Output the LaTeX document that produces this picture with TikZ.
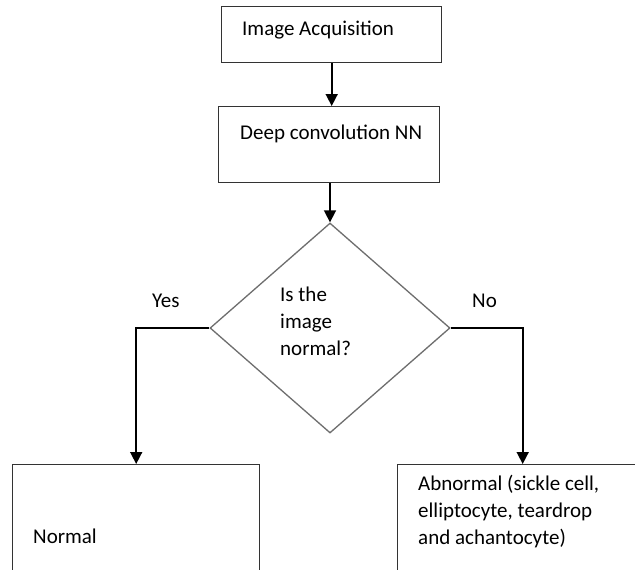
\documentclass[tikz,border=0pt]{standalone}
\usepackage{fontspec}
\setmainfont{Carlito}
\usetikzlibrary{shapes.geometric,arrows.meta}
\definecolor{boxc}{HTML}{333333}
\definecolor{diac}{HTML}{6E6E6E}
\begin{document}
\begin{tikzpicture}[x=1pt,y=-1pt,
  box/.style={draw=boxc,line width=1.4pt,rectangle,inner sep=0pt,anchor=north west,fill=white},
  dia/.style={draw=diac,line width=1.3pt,diamond,inner sep=0pt,minimum width=240pt,minimum height=210pt},
  conn/.style={draw=black,line width=1.6pt,-{Triangle[width=12pt,length=12pt]}},
  txt/.style={font=\fontsize{21pt}{27pt}\selectfont,anchor=base west,inner sep=0pt,align=left}]
\clip (0,0) rectangle (635,570);
\fill[white] (0,0) rectangle (635,570);
\node[box,minimum width=220pt,minimum height=56pt] (b1) at (221,6) {};
\node[box,minimum width=221pt,minimum height=76pt] (b2) at (218,106) {};
\node[dia] (d) at (330,328) {};
\node[box,minimum width=247pt,minimum height=140pt] (nl) at (12,464) {};
\node[box,minimum width=250pt,minimum height=140pt] (ab) at (397,464) {};
\node[txt] (t1) at (242,35) {Image Acquisition};
\node[txt] (t2) at (240,139) {Deep convolution NN};
\node[txt] (t3) at (280,355) {Is the\\image\\normal?};
\node[txt] (yes) at (152,307) {Yes};
\node[txt] (no) at (472,307) {No};
\node[txt] (t4) at (33,543) {Normal};
\node[txt] (t5) at (418,544) {Abnormal (sickle cell,\\elliptocyte, teardrop\\and achantocyte)};
\draw[conn] (b1.south) -- (b1.south |- b2.north);
\draw[conn] (d.north |- b2.south) -- (d.north);
\draw[conn] (d.west) -| (nl.north);
\draw[conn] (d.east) -| (ab.north);
\end{tikzpicture}
\end{document}
